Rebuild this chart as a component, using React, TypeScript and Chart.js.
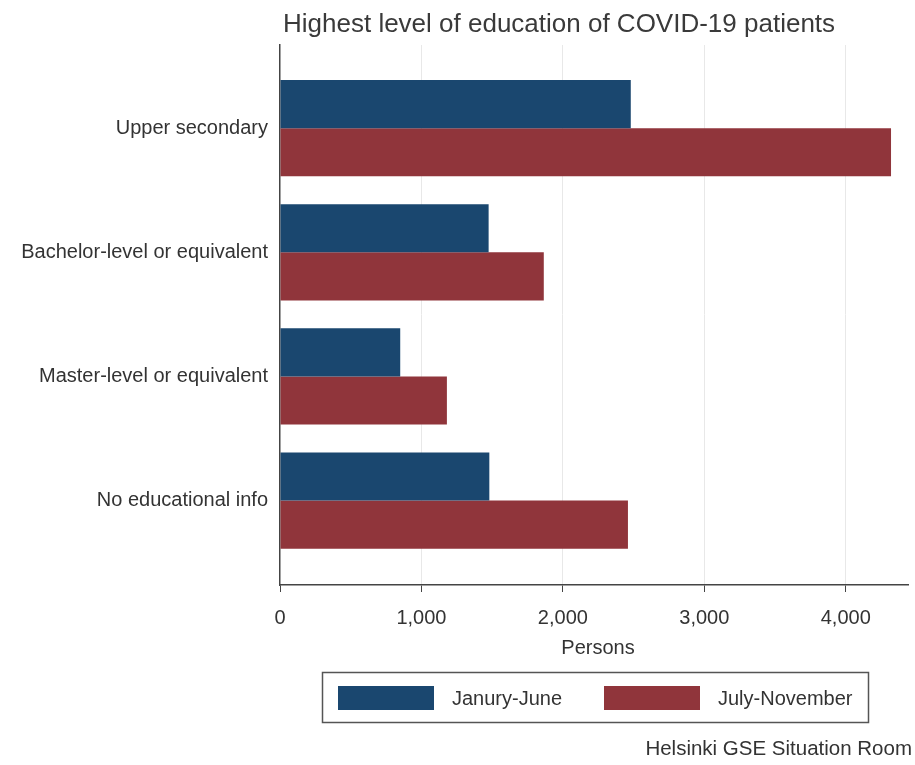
import React, { useEffect, useRef } from "react";
import { Chart, registerables } from "chart.js";

Chart.register(...registerables);

const categories = [
  "Upper secondary",
  "Bachelor-level or equivalent",
  "Master-level or equivalent",
  "No educational info",
];
const janJune = [2480, 1475, 850, 1480];
const julyNov = [4320, 1865, 1180, 2460];
const seriesLabels = ["Janury-June", "July-November"];
const xTicks = [0, 1000, 2000, 3000, 4000];
const titleText = "Highest level of education of COVID-19 patients";
const xTitle = "Persons";
const caption = "Helsinki GSE Situation Room";

const BLUE = "#1a476f";
const RED = "#90353b";
const FONT = "'Liberation Sans', Arial, sans-serif";

const decorPlugin = {
  id: "decor",
  afterDraw(chart: any) {
    const ctx = chart.ctx;
    const area = chart.chartArea;
    ctx.save();
    // title
    ctx.fillStyle = "#3a3a3a";
    ctx.font = `26px ${FONT}`;
    ctx.textAlign = "left";
    ctx.textBaseline = "alphabetic";
    ctx.fillText(titleText, 283, 32);
    ctx.textBaseline = "middle";
    // x title
    ctx.fillStyle = "#333";
    ctx.font = `20px ${FONT}`;
    ctx.textAlign = "center";
    ctx.fillText(xTitle, (area.left + area.right) / 2 + 4, 648);
    // legend box
    ctx.strokeStyle = "#555";
    ctx.lineWidth = 1.5;
    ctx.strokeRect(322.5, 672.5, 546, 50);
    const ds = chart.data.datasets;
    const swX = [338, 604];
    ds.forEach((d: any, i: number) => {
      ctx.fillStyle = d.backgroundColor;
      ctx.fillRect(swX[i], 686, 96, 24);
      ctx.fillStyle = "#333";
      ctx.font = `20px ${FONT}`;
      ctx.textAlign = "left";
      ctx.fillText(d.label, swX[i] + 114, 699);
    });
    // caption
    ctx.font = `20.5px ${FONT}`;
    ctx.textAlign = "right";
    ctx.fillStyle = "#333";
    ctx.fillText(caption, 912, 749);
    ctx.restore();
  },
};

export default function App() {
  const ref = useRef<HTMLCanvasElement>(null);
  useEffect(() => {
    document.body.style.margin = "0";
    const chart = new Chart(ref.current!, {
      type: "bar",
      data: {
        datasets: [
          {
            label: seriesLabels[0],
            data: janJune.map((v, i) => ({ x: v, y: i })),
            backgroundColor: BLUE,
            categoryPercentage: 0.775,
            barPercentage: 1,
          },
          {
            label: seriesLabels[1],
            data: julyNov.map((v, i) => ({ x: v, y: i })),
            backgroundColor: RED,
            categoryPercentage: 0.775,
            barPercentage: 1,
          },
        ] as any,
      },
      options: {
        indexAxis: "y",
        animation: false,
        responsive: false,
        layout: { padding: { top: 45, right: 7, left: 0, bottom: 0 } },
        plugins: { legend: { display: false }, title: { display: false }, tooltip: { enabled: false } },
        scales: {
          x: {
            type: "linear",
            min: 0,
            max: 4440,
            afterFit: (axis: any) => {
              axis.height = 180;
            },
            afterBuildTicks: (axis: any) => {
              axis.ticks = xTicks.map((v) => ({ value: v }));
            },
            ticks: {
              color: "#333",
              font: { family: FONT, size: 20 },
              padding: 14,
              maxRotation: 0,
              callback: (v: any) => Number(v).toLocaleString("en-US"),
            },
            grid: {
              color: (c: any) => (c.tick && c.tick.value === 0 ? "rgba(0,0,0,0)" : "#e8e8e8"),
              tickColor: "#444",
              tickLength: 7,
              drawTicks: true,
            },
            border: { display: true, color: "#444", width: 1.5 },
          },
          y: {
            type: "linear",
            reverse: true,
            offset: false,
            bounds: "data",
            min: -0.67,
            max: 3.68,
            afterFit: (axis: any) => {
              axis.width = 280;
            },
            afterBuildTicks: (axis: any) => {
              axis.ticks = categories.map((_, i) => ({ value: i }));
            },
            ticks: {
              color: "#333",
              font: { family: FONT, size: 20 },
              padding: 12,
              callback: (v: any) => categories[v as number],
            },
            grid: { display: true, offset: false, color: "rgba(0,0,0,0)", drawTicks: false },
            border: { display: true, color: "#444", width: 1.5 },
          },
        },
      } as any,
      plugins: [decorPlugin],
    });
    return () => chart.destroy();
  }, []);
  return (
    <div style={{ width: 915, height: 765, background: "#fff" }}>
      <canvas ref={ref} width={915} height={765} style={{ display: "block" }} />
    </div>
  );
}
